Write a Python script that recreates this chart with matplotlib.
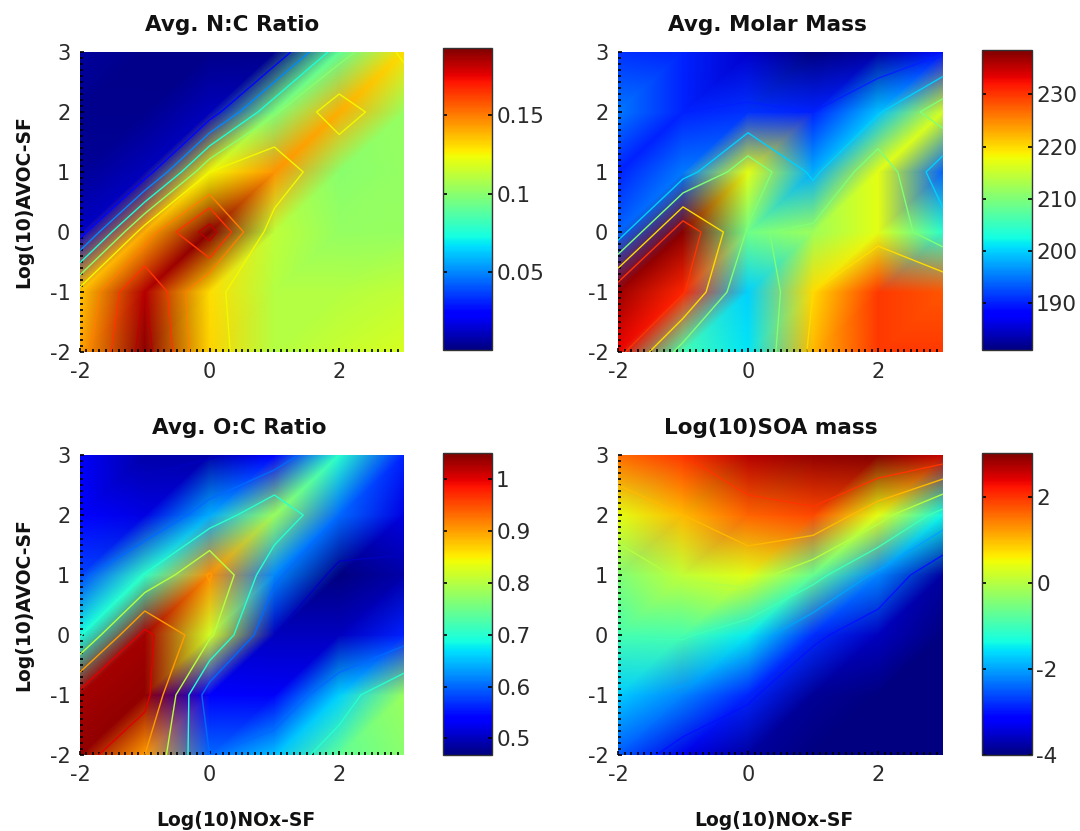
import matplotlib
matplotlib.use("Agg")
import matplotlib.pyplot as plt
import matplotlib.tri as mtri
import numpy as np

plt.rcParams["axes.unicode_minus"] = False

W, H = 1080, 831

nox_sf = [-2, -1, 0, 1, 2, 3]
avoc_sf = [-2, -1, 0, 1, 2, 3]

# строки снизу вверх: y = -2 ... 3
nc_ratio = [
    [0.142, 0.190, 0.132, 0.110, 0.114, 0.118],
    [0.135, 0.184, 0.130, 0.110, 0.110, 0.113],
    [0.012, 0.140, 0.192, 0.112, 0.102, 0.103],
    [0.004, 0.010, 0.125, 0.145, 0.100, 0.102],
    [0.003, 0.003, 0.010, 0.097, 0.140, 0.103],
    [0.006, 0.002, 0.002, 0.003, 0.090, 0.130],
]
molar_mass = [
    [233, 206, 201, 222, 229.8, 229.8],
    [237, 231, 200, 220, 229.8, 228],
    [194, 238, 209, 212, 217, 204],
    [190, 195, 217, 198, 217, 194],
    [195, 190, 191, 190, 199, 216],
    [191, 190, 185, 181, 183, 189],
]
oc_ratio = [
    [1.04, 0.90, 0.60, 0.65, 0.74, 0.77],
    [1.03, 1.04, 0.54, 0.53, 0.66, 0.78],
    [0.69, 1.03, 0.82, 0.50, 0.50, 0.56],
    [0.58, 0.705, 0.91, 0.62, 0.47, 0.49],
    [0.54, 0.52, 0.64, 0.78, 0.60, 0.52],
    [0.53, 0.49, 0.49, 0.54, 0.70, 0.56],
]
soa_mass = [
    [-2.5, -3.35, -3.8, -4.0, -4.0, -4.0],
    [-1.7, -2.2, -2.85, -3.85, -4.0, -4.0],
    [-0.95, -0.9, -1.5, -2.8, -3.6, -4.0],
    [-0.45, 0.1, 0.39, -0.65, -2.2, -3.8],
    [0.4, 1.0, 1.65, 1.85, 0.4, -1.4],
    [1.6, 2.0, 2.7, 2.9, 3.0, 2.6],
]

titles = ["Avg. N:C Ratio", "Avg. Molar Mass", "Avg. O:C Ratio", "Log(10)SOA mass"]
panels = [nc_ratio, molar_mass, oc_ratio, soa_mass]
limits = [(0.0, 0.193), (181, 238.5), (0.468, 1.05), (-4, 3.03)]
levels = [
    [0.025, 0.05, 0.075, 0.1, 0.125, 0.15, 0.165, 0.183],
    [190, 200, 210, 220, 230],
    [0.5, 0.6, 0.7, 0.8, 0.9, 1.0],
    [-3, -2, -1, 0, 1, 2],
]
cbar_ticks = [
    [0.05, 0.1, 0.15],
    [190, 200, 210, 220, 230],
    [0.5, 0.6, 0.7, 0.8, 0.9, 1],
    [-4, -2, 0, 2],
]
cbar_labels = [
    ["0.05", "0.1", "0.15"],
    ["190", "200", "210", "220", "230"],
    ["0.5", "0.6", "0.7", "0.8", "0.9", "1"],
    ["-4", "-2", "0", "2"],
]

# пиксели: левый край, верх, ширина, высота
ax_boxes = [(80, 52, 324, 300), (618, 52, 325, 300), (80, 455, 324, 300), (618, 455, 325, 300)]
cb_boxes = [(443, 48, 49, 302), (982, 50, 50, 300), (443, 453, 49, 302), (982, 453, 50, 302)]
title_x = [0.47, 0.46, 0.49, 0.47]

TEXT = "#2a2a2a"
LABEL = "#111111"


def to_fig(box):
    x, y, w, h = box
    return [x / W, 1 - (y + h) / H, w / W, h / H]


def make_tri(X, Y):
    # каждую клетку делим на два треугольника, диагональ снизу-слева вверх-вправо
    n = len(nox_sf)
    triangles = []
    for j in range(n - 1):
        for k in range(n - 1):
            a = j * n + k
            b = a + 1
            c = a + n
            d = c + 1
            triangles += [[a, b, d], [a, d, c]]
    return mtri.Triangulation(X.ravel(), Y.ravel(), triangles)


fig = plt.figure(figsize=(W / 100, H / 100), dpi=100)
X, Y = np.meshgrid(nox_sf, avoc_sf)
tri = make_tri(X, Y)

for i in range(4):
    ax = fig.add_axes(to_fig(ax_boxes[i]))
    data = np.array(panels[i], dtype=float)
    vmin, vmax = limits[i]

    mesh = ax.tripcolor(tri, data.ravel(), shading="gouraud", cmap="jet", vmin=vmin, vmax=vmax)
    ax.contour(X, Y, data, levels=levels[i], cmap="jet", vmin=vmin, vmax=vmax, linewidths=1.0)

    ax.set_xlim(-2, 3)
    ax.set_ylim(-2, 3)
    ax.set_xticks([-2, 0, 2])
    ax.set_yticks([-2, -1, 0, 1, 2, 3])
    ax.set_xticks(np.arange(-2, 3, 0.1), minor=True)
    ax.set_yticks(np.arange(-2, 3, 0.1), minor=True)
    ax.tick_params(which="major", direction="in", length=3, width=1.2, color="black",
                   labelsize=15, labelcolor=TEXT, pad=7)
    ax.tick_params(which="minor", direction="in", length=2, width=1.2, color="black")
    for s in ax.spines.values():
        s.set_visible(False)

    ax.set_title(titles[i], fontsize=15.5, fontweight="bold", color=LABEL, pad=15, x=title_x[i])
    if i in (0, 2):
        ax.set_ylabel("Log(10)AVOC-SF", fontsize=13.5, fontweight="bold", color=LABEL, labelpad=12)
    if i in (2, 3):
        ax.set_xlabel("Log(10)NOx-SF", fontsize=13.5, fontweight="bold", color=LABEL, labelpad=19,
                      x=0.48)

    cax = fig.add_axes(to_fig(cb_boxes[i]))
    cb = fig.colorbar(mesh, cax=cax)
    cb.set_ticks(cbar_ticks[i], labels=cbar_labels[i])
    cax.minorticks_off()
    cax.tick_params(direction="in", left=True, right=True, length=3, width=1.2,
                    labelsize=15.5, labelcolor=TEXT, pad=3)
    cb.outline.set_edgecolor("#333333")
    cb.outline.set_linewidth(1.0)

fig.savefig("out.png", dpi=100)
